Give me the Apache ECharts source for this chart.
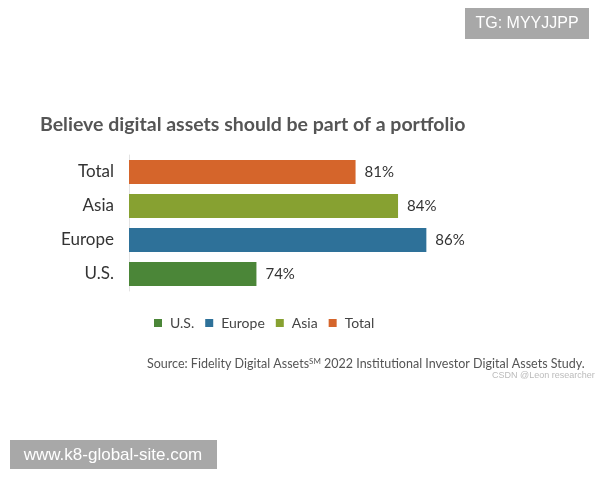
<!DOCTYPE html>
<html>
<head>
<meta charset="utf-8">
<script src="https://cdn.jsdelivr.net/npm/echarts@6/dist/echarts.min.js"></script>
<style>
  html, body { margin: 0; padding: 0; background: #fff; }
  #chart-container { width: 600px; height: 480px; }
</style>
</head>
<body>
<div id="chart-container"></div>
<script>
var categories = ['U.S.', 'Europe', 'Asia', 'Total'];
var values = [74, 86, 84, 81];
var colors = ['#4B8638', '#2E7199', '#87A131', '#D5652B'];
var axisMin = 65;
var axisMax = 90;

var dom = document.getElementById('chart-container');
var myChart = echarts.init(dom, null, { renderer: 'canvas' });

var font = 'Lato, "Open Sans", sans-serif';

// one series per region so the legend gets one entry each
var series = categories.map(function (name, i) {
    var data = categories.map(function (c, j) {
        return j === i ? values[i] : '-';
    });
    return {
        name: name,
        type: 'bar',
        stack: 'all',
        barWidth: 24,
        itemStyle: { color: colors[i] },
        label: {
            show: true,
            position: 'right',
            distance: 9,
            formatter: '{c}%',
            fontFamily: font,
            fontSize: 15,
            color: '#333'
        },
        data: data
    };
});

var option = {
    animation: false,
    title: {
        text: 'Believe digital assets should be part of a portfolio',
        left: 35,
        top: 110,
        textStyle: {
            fontFamily: font,
            fontWeight: 'bold',
            fontSize: 19.5,
            color: '#555'
        }
    },
    legend: {
        data: categories,
        left: 149,
        top: 311,
        icon: 'rect',
        itemWidth: 8,
        itemHeight: 8,
        itemGap: 11,
        textStyle: { fontFamily: font, fontSize: 14, color: '#444', padding: [0, 0, 0, 3] }
    },
    grid: { left: 129, top: 155, height: 136, right: 117 },
    xAxis: {
        type: 'value',
        min: axisMin,
        max: axisMax,
        show: false
    },
    yAxis: {
        type: 'category',
        data: categories,
        axisLine: { show: true, lineStyle: { color: '#e3e3e3', width: 1 } },
        axisTick: { show: false },
        axisLabel: {
            margin: 15,
            fontFamily: font,
            fontSize: 17,
            color: '#333'
        }
    },
    series: series,
    graphic: [
        {
            type: 'text',
            left: 147,
            top: 357,
            style: {
                text: 'Source: Fidelity Digital Assets{sup|SM} 2022 Institutional Investor Digital Assets Study.',
                rich: {
                    sup: { fontSize: 8, verticalAlign: 'top', padding: [0, 0, 6, 0], fill: '#555', fontFamily: font }
                },
                fontFamily: font,
                fontSize: 12.5,
                fill: '#555'
            }
        },
        {
            type: 'text',
            left: 492,
            top: 371,
            style: {
                text: 'CSDN @Leon researcher',
                fontFamily: 'Arial, sans-serif',
                fontSize: 9,
                fill: '#bbb'
            }
        },
        {
            type: 'group',
            left: 465,
            top: 8,
            children: [
                { type: 'rect', shape: { x: 0, y: 0, width: 124, height: 31 }, style: { fill: '#a8a8a8' } },
                {
                    type: 'text', x: 62, y: 16,
                    style: { text: 'TG: MYYJJPP', fontFamily: 'Arial, "Liberation Sans", sans-serif', fontSize: 16, fill: '#fff', align: 'center', verticalAlign: 'middle' }
                }
            ]
        },
        {
            type: 'group',
            left: 10,
            top: 440,
            children: [
                { type: 'rect', shape: { x: 0, y: 0, width: 207, height: 29 }, style: { fill: '#a8a8a8' } },
                {
                    type: 'text', x: 103, y: 15,
                    style: { text: 'www.k8-global-site.com', fontFamily: 'Arial, "Liberation Sans", sans-serif', fontSize: 17, fill: '#fff', align: 'center', verticalAlign: 'middle' }
                }
            ]
        }
    ]
};

myChart.setOption(option);
window.addEventListener('resize', myChart.resize);
</script>
</body>
</html>
